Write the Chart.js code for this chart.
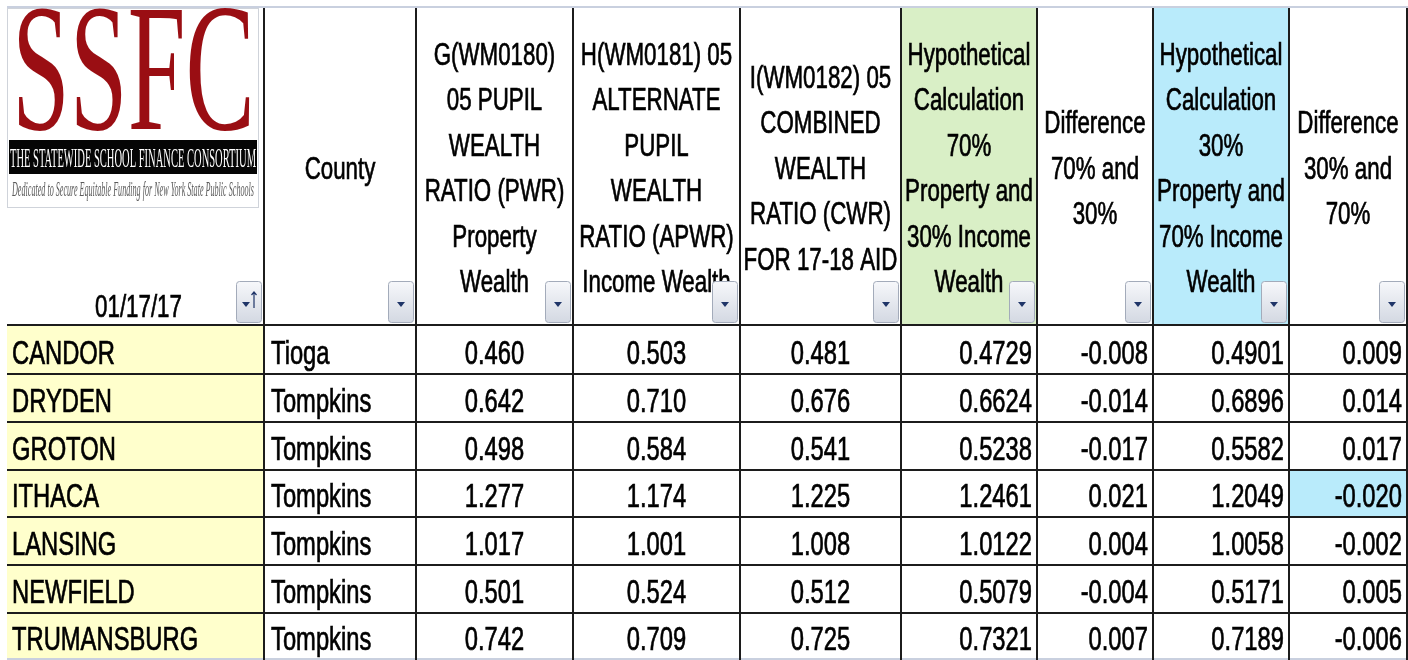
<!DOCTYPE html>
<html>
<head>
<meta charset="utf-8">
<script src="https://cdn.jsdelivr.net/npm/chart.js@4"></script>
<style>
  html, body { margin: 0; padding: 0; background: #fff; }
  #wrap { width: 1408px; height: 660px; }
</style>
</head>
<body>
<div id="wrap"><canvas id="tbl" width="1408" height="660"></canvas></div>
<script>
// table data
const dateLabel = '01/17/17';
const districts = ['CANDOR', 'DRYDEN', 'GROTON', 'ITHACA', 'LANSING', 'NEWFIELD', 'TRUMANSBURG'];
const counties = ['Tioga', 'Tompkins', 'Tompkins', 'Tompkins', 'Tompkins', 'Tompkins', 'Tompkins'];
const pwr = [0.460, 0.642, 0.498, 1.277, 1.017, 0.501, 0.742];
const apwr = [0.503, 0.710, 0.584, 1.174, 1.001, 0.524, 0.709];
const cwr = [0.481, 0.676, 0.541, 1.225, 1.008, 0.512, 0.725];
const hyp70 = [0.4729, 0.6624, 0.5238, 1.2461, 1.0122, 0.5079, 0.7321];
const diff70 = [-0.008, -0.014, -0.017, 0.021, 0.004, -0.004, 0.007];
const hyp30 = [0.4901, 0.6896, 0.5582, 1.2049, 1.0058, 0.5171, 0.7189];
const diff30 = [0.009, 0.014, 0.017, -0.020, -0.002, 0.005, -0.006];

const headers = [
  [],
  ['County'],
  ['G(WM0180)', '05 PUPIL', 'WEALTH', 'RATIO (PWR)', 'Property', 'Wealth'],
  ['H(WM0181) 05', 'ALTERNATE', 'PUPIL', 'WEALTH', 'RATIO (APWR)', 'Income Wealth'],
  ['I(WM0182) 05', 'COMBINED', 'WEALTH', 'RATIO (CWR)', 'FOR 17-18 AID'],
  ['Hypothetical', 'Calculation', '70%', 'Property and', '30% Income', 'Wealth'],
  ['Difference', '70% and', '30%'],
  ['Hypothetical', 'Calculation', '30%', 'Property and', '70% Income', 'Wealth'],
  ['Difference', '30% and', '70%']
];

// layout (scale units == pixels)
const colEdges = [7, 264, 416, 573, 740, 901, 1037, 1153, 1289, 1407];
const rowEdges = [8, 325, 374, 422, 470, 517, 565, 613, 660];
const FONT = '"Liberation Sans", Arial, sans-serif';
const SX = 0.72;

function columns() {
  return [
    districts, counties,
    pwr.map(v => v.toFixed(3)), apwr.map(v => v.toFixed(3)), cwr.map(v => v.toFixed(3)),
    hyp70.map(v => v.toFixed(4)), diff70.map(v => v.toFixed(3)),
    hyp30.map(v => v.toFixed(4)), diff30.map(v => v.toFixed(3))
  ];
}
const aligns = ['left', 'left', 'center', 'center', 'center', 'right', 'right', 'right', 'right'];

function text(ctx, s, x, y, align, sx) {
  ctx.save();
  ctx.translate(x, y);
  ctx.scale(sx, 1);
  ctx.textAlign = align;
  ctx.fillText(s, 0, 0);
  ctx.lineWidth = 0.7;
  ctx.strokeText(s, 0, 0);
  ctx.restore();
}

function fitText(ctx, s, x0, x1, y) {
  const w = ctx.measureText(s).width;
  ctx.save();
  ctx.translate(x0, y);
  ctx.scale((x1 - x0) / w, 1);
  ctx.textAlign = 'left';
  ctx.fillText(s, 0, 0);
  ctx.restore();
}

function button(ctx, right, top, bottom, sort) {
  const w = 26, x = right - w;
  const g = ctx.createLinearGradient(0, top, 0, bottom);
  g.addColorStop(0, '#f7f8fb');
  g.addColorStop(1, '#d3d8e2');
  ctx.fillStyle = g;
  ctx.strokeStyle = '#a3abba';
  ctx.lineWidth = 1;
  ctx.beginPath();
  ctx.roundRect(x + 0.5, top + 0.5, w - 1, bottom - top - 1, 3);
  ctx.fill();
  ctx.stroke();
  const cy = (top + bottom) / 2 + 2;
  const cx = sort ? x + 10 : x + w / 2;
  ctx.fillStyle = '#1f3568';
  ctx.beginPath();
  ctx.moveTo(cx - 4, cy - 2);
  ctx.lineTo(cx + 4, cy - 2);
  ctx.lineTo(cx, cy + 3);
  ctx.closePath();
  ctx.fill();
  if (sort) {
    ctx.strokeStyle = '#1f3568';
    ctx.lineWidth = 1.2;
    ctx.beginPath();
    ctx.moveTo(x + 18, cy + 4);
    ctx.lineTo(x + 18, cy - 12);
    ctx.moveTo(x + 15.5, cy - 9);
    ctx.lineTo(x + 18, cy - 12);
    ctx.lineTo(x + 20.5, cy - 9);
    ctx.stroke();
  }
}

const tablePlugin = {
  id: 'tablePlugin',
  afterDraw(chart) {
    const ctx = chart.ctx;
    const xs = chart.scales.x, ys = chart.scales.y;
    const X = colEdges.map(v => xs.getPixelForValue(v));
    const Y = rowEdges.map(v => ys.getPixelForValue(v));
    const nRows = districts.length;
    ctx.save();

    // fills
    ctx.fillStyle = '#ffffcc';
    ctx.fillRect(X[0], Y[1], X[1] - X[0], Y[nRows + 1] - Y[1]);
    ctx.fillStyle = '#d9efc6';
    ctx.fillRect(X[5], Y[0], X[6] - X[5], Y[1] - Y[0]);
    ctx.fillStyle = '#b9ebfb';
    ctx.fillRect(X[7], Y[0], X[8] - X[7], Y[1] - Y[0]);
    // highlighted min difference cell
    const hi = diff30.indexOf(Math.min(...diff30));
    ctx.fillRect(X[8], Y[hi + 1], X[9] - X[8], Y[hi + 2] - Y[hi + 1]);

    // logo
    ctx.strokeStyle = '#cfd3da';
    ctx.lineWidth = 1;
    ctx.strokeRect(X[0] + 0.5, Y[0] + 0.5, 251, 199);
    ctx.fillStyle = '#9a0e13';
    ctx.font = '182px "Liberation Serif", "Times New Roman", serif';
    fitText(ctx, 'SSFC', X[0] + 5, X[0] + 248, Y[0] + 121);
    ctx.fillStyle = '#050505';
    ctx.fillRect(X[0] + 2, Y[0] + 132, 248, 34);
    ctx.fillStyle = '#ffffff';
    ctx.font = '27px "Liberation Serif", "Times New Roman", serif';
    fitText(ctx, 'THE STATEWIDE SCHOOL FINANCE CONSORTIUM', X[0] + 3, X[0] + 249, Y[0] + 159);
    ctx.fillStyle = '#5a5a5a';
    ctx.font = 'italic 21px "Liberation Serif", "Times New Roman", serif';
    fitText(ctx, 'Dedicated to Secure Equitable Funding for New York State Public Schools', X[0] + 5, X[0] + 247, Y[0] + 188);

    // header text
    ctx.fillStyle = '#000';
    ctx.strokeStyle = '#000';
    ctx.font = '31px ' + FONT;
    ctx.textBaseline = 'alphabetic';
    const mid = (Y[0] + Y[1]) / 2 + 1;
    headers.forEach((lines, c) => {
      const cx = (X[c] + X[c + 1]) / 2;
      const n = lines.length;
      lines.forEach((s, i) => {
        const cy = mid + (i - (n - 1) / 2) * 45.5;
        text(ctx, s, cx, cy + 11, 'center', SX);
      });
    });
    text(ctx, dateLabel, (X[0] + X[1]) / 2 + 3, Y[1] - 8, 'center', SX);

    // body text
    ctx.font = '33px ' + FONT;
    columns().forEach((vals, c) => {
      vals.forEach((s, r) => {
        const base = Y[r + 2] - 10;
        let x;
        if (aligns[c] === 'left') x = X[c] + (c === 0 ? 5 : 7);
        else if (aligns[c] === 'right') x = X[c + 1] - 5;
        else x = (X[c] + X[c + 1]) / 2;
        text(ctx, s, x, base, aligns[c], SX);
      });
    });

    // grid
    ctx.strokeStyle = '#c9d0df';
    ctx.lineWidth = 2;
    ctx.beginPath();
    ctx.moveTo(X[0], Y[0] - 1);
    ctx.lineTo(X[9] + 1, Y[0] - 1);
    ctx.moveTo(X[0], Y[nRows + 1] - 1);
    ctx.lineTo(X[9] + 1, Y[nRows + 1] - 1);
    ctx.stroke();
    ctx.strokeStyle = '#1c1c1c';
    ctx.lineWidth = 2;
    ctx.beginPath();
    for (let r = 1; r <= nRows; r++) {
      ctx.moveTo(X[0], Y[r]);
      ctx.lineTo(X[9], Y[r]);
    }
    for (let c = 1; c < X.length; c++) {
      ctx.moveTo(X[c], Y[0]);
      ctx.lineTo(X[c], Y[nRows + 1]);
    }
    ctx.stroke();

    // filter buttons
    for (let c = 0; c < 9; c++) button(ctx, X[c + 1] - 2, Y[1] - 44, Y[1] - 2, c === 0);

    ctx.restore();
  }
};

new Chart(document.getElementById('tbl'), {
  type: 'scatter',
  data: { datasets: [{ data: [], pointRadius: 0 }] },
  options: {
    responsive: false,
    animation: false,
    devicePixelRatio: 1,
    layout: { padding: 0 },
    plugins: { legend: { display: false }, tooltip: { enabled: false } },
    scales: {
      x: { type: 'linear', min: 0, max: 1408, display: false },
      y: { type: 'linear', min: 0, max: 660, reverse: true, display: false }
    }
  },
  plugins: [tablePlugin]
});
</script>
</body>
</html>
